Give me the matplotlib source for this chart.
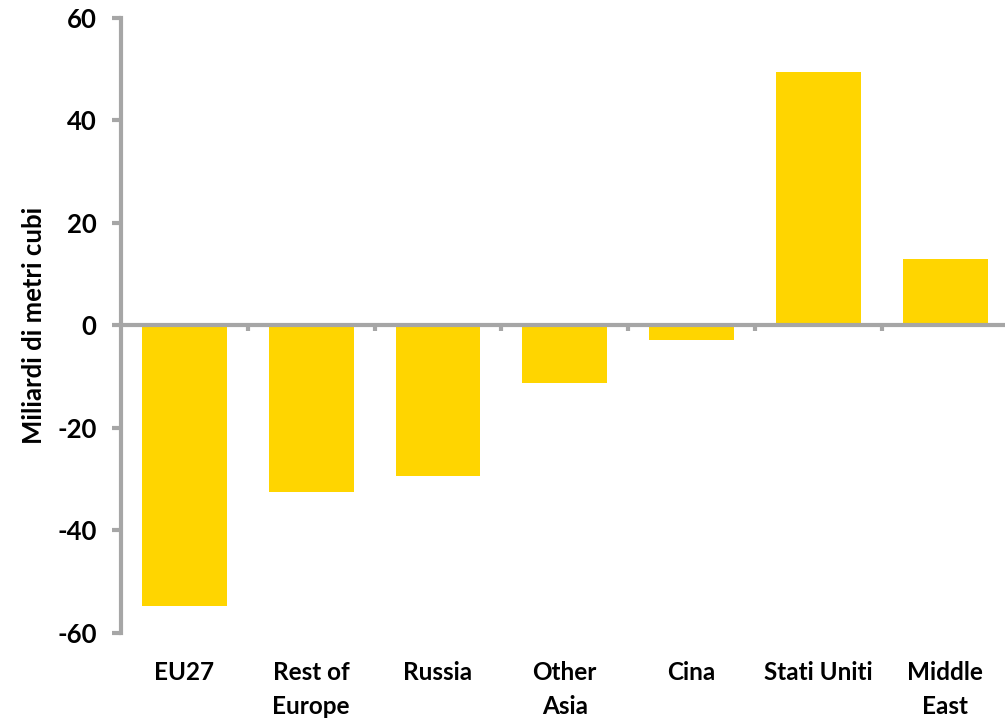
import numpy as np
import matplotlib.pyplot as plt

# Data
regions = ['EU27', 'Rest of\nEurope', 'Russia', 'Other\nAsia', 'Cina', 'Stati Uniti', 'Middle\nEast']
values = [-54.7, -32.5, -29.3, -11.3, -2.9, 49.5, 13.0]
yticks = [-60, -40, -20, 0, 20, 40, 60]

plt.rcParams['font.family'] = ['Lato', 'DejaVu Sans']
plt.rcParams['font.weight'] = 'bold'

grey = '#A6A6A6'
gold = '#FFD500'

fig = plt.figure(figsize=(10.05, 7.22), dpi=100)
ax = fig.add_axes([0.1204, 0.1233, 0.8832, 0.852])

x = np.arange(len(regions))
ax.bar(x, values, width=0.67, color=gold, zorder=1)

ax.set_xlim(-0.5, len(regions) - 0.5)
ax.set_ylim(-60, 60)
ax.set_yticks(yticks)
ax.set_yticklabels([str(v) for v in yticks], fontsize=18.5, fontweight='bold')
ax.set_ylabel('Miliardi di metri cubi', fontsize=18.5, fontweight='bold', labelpad=8)

# axis lines
for side in ['top', 'right']:
    ax.spines[side].set_visible(False)
ax.spines['left'].set_color(grey)
ax.spines['left'].set_linewidth(3.0)
ax.spines['bottom'].set_position(('data', 0))
ax.spines['bottom'].set_color(grey)
ax.spines['bottom'].set_linewidth(3.0)
ax.spines['bottom'].set_zorder(3)

ax.tick_params(axis='y', direction='out', length=6.5, width=3.0, color=grey, pad=11)
ax.set_xticks([])
ax.set_xticks(np.arange(0.5, len(regions) - 0.5, 1), minor=True)
ax.tick_params(axis='x', which='minor', direction='out', length=4.5, width=3.0, color=grey, labelbottom=False)

# category labels at the bottom of the plot area
sec = ax.secondary_xaxis(0)
sec.set_xticks(x)
sec.set_xticklabels(regions, fontsize=17.5, fontweight='bold', linespacing=1.6, va='top')
sec.tick_params(length=0, pad=20)
sec.spines['bottom'].set_visible(False)

fig.savefig('out.png', dpi=100)
